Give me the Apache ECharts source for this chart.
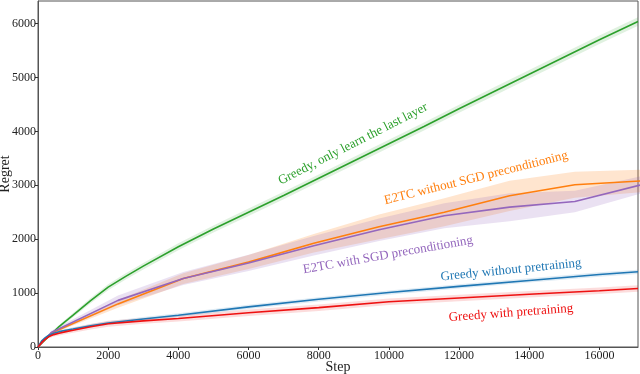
<!DOCTYPE html>
<html>
<head>
<meta charset="utf-8">
<script src="https://cdn.jsdelivr.net/npm/echarts@6/dist/echarts.min.js"></script>
<style>
  html, body { margin: 0; padding: 0; background: #fff; }
  #chart { width: 640px; height: 374px; }
</style>
</head>
<body>
<div id="chart"></div>
<script>
// 曲线数据
let greenSteps = [0, 150, 300, 600, 1000, 1500, 2000, 2500, 3000, 4000, 5000, 6000, 7000, 8000, 9000, 10000, 11000, 12000, 13000, 14000, 15000, 16000, 17100]
let greenMean = [0, 100, 190, 380, 590, 860, 1110, 1310, 1500, 1860, 2190, 2500, 2810, 3130, 3450, 3770, 4090, 4420, 4740, 5060, 5380, 5700, 6040]
let greenStd = [0, 10, 20, 30, 40, 50, 55, 58, 60, 65, 65, 70, 70, 70, 75, 75, 75, 75, 80, 80, 80, 80, 80]

let e2tcSteps = [0, 380, 2280, 4140, 6000, 7860, 9720, 11580, 13440, 15300, 17160]
let orangeMean = [0, 260, 800, 1270, 1575, 1925, 2230, 2500, 2805, 3010, 3080]
let orangeStd = [0, 20, 70, 100, 130, 170, 230, 260, 280, 240, 210]
let purpleMean = [0, 270, 865, 1270, 1560, 1880, 2175, 2435, 2595, 2700, 3005]
let purpleStd = [0, 30, 90, 120, 150, 180, 210, 230, 260, 200, 160]

let greedySteps = [0, 100, 200, 300, 450, 600, 800, 1000, 1500, 2000, 3000, 4000, 6000, 8000, 10000, 12000, 14000, 16000, 17100]
let blueMean = [0, 110, 170, 215, 255, 285, 312, 335, 395, 445, 520, 590, 745, 885, 1010, 1125, 1235, 1345, 1395]
let blueStd = [0, 10, 15, 20, 22, 25, 28, 30, 32, 35, 35, 35, 40, 40, 40, 40, 40, 40, 40]
let redMean = [0, 80, 140, 190, 230, 255, 285, 310, 375, 430, 485, 530, 635, 730, 840, 910, 980, 1045, 1085]
let redStd = [0, 15, 22, 30, 35, 40, 42, 45, 50, 55, 55, 55, 60, 60, 60, 60, 60, 60, 60]

let xTicks = [0, 2000, 4000, 6000, 8000, 10000, 12000, 14000, 16000]
let yTicks = [0, 1000, 2000, 3000, 4000, 5000, 6000]

let font = 'Liberation Serif'

// 阴影带：用 custom 系列画一个多边形（mean ± std）
function bandSeries(steps, mean, std, bandColor) {
  let data = steps.map((s, i) => [s, mean[i] - std[i], mean[i] + std[i]])
  return {
    type: 'custom',
    silent: true,
    z: 1,
    data: data,
    encode: { x: 0, y: [1, 2] },
    renderItem: function(params, api) {
      if (params.dataIndex !== 0) return null
      let top = data.map(d => api.coord([d[0], d[2]]))
      let bottom = data.map(d => api.coord([d[0], d[1]])).reverse()
      return {
        type: 'polygon',
        shape: { points: top.concat(bottom) },
        style: { fill: bandColor }
      }
    }
  }
}

// 均值线
function lineSeries(steps, mean, color) {
  return {
    type: 'line',
    data: steps.map((s, i) => [s, mean[i]]),
    symbol: 'none',
    lineStyle: { color: color, width: 1.6 },
    z: 3
  }
}

let series = [
  bandSeries(greenSteps, greenMean, greenStd, 'rgba(44,160,44,0.15)'),
  bandSeries(e2tcSteps, orangeMean, orangeStd, 'rgba(255,127,14,0.2)'),
  bandSeries(e2tcSteps, purpleMean, purpleStd, 'rgba(148,103,189,0.2)'),
  bandSeries(greedySteps, blueMean, blueStd, 'rgba(31,119,180,0.15)'),
  bandSeries(greedySteps, redMean, redStd, 'rgba(238,17,17,0.15)'),
  lineSeries(greenSteps, greenMean, '#2ca02c'),
  lineSeries(e2tcSteps, orangeMean, '#ff7f0e'),
  lineSeries(e2tcSteps, purpleMean, '#9467bd'),
  lineSeries(greedySteps, blueMean, '#1f77b4'),
  lineSeries(greedySteps, redMean, '#ee1111')
]

// 曲线旁的文字标注
function label(text, x, y, deg, color) {
  return {
    type: 'text',
    x: x,
    y: y,
    rotation: deg * Math.PI / 180,
    z: 10,
    style: {
      text: text,
      fill: color,
      font: '13px "' + font + '"',
      textAlign: 'center',
      textVerticalAlign: 'middle'
    }
  }
}

let mychart = echarts.init(document.querySelector('#chart'))
let option = {
  animation: false,
  backgroundColor: '#fff',
  grid: {
    left: 38,
    right: 2,
    top: 1,
    bottom: 27,
    outerBoundsMode: 'none',
    containLabel: false,
    show: true,
    borderColor: '#555',
    borderWidth: 1
  },
  xAxis: {
    type: 'value',
    min: 0,
    max: 17100,
    interval: 2000,
    name: 'Step',
    nameLocation: 'middle',
    nameGap: 13,
    nameMoveOverlap: false,
    nameTextStyle: { fontFamily: font, fontSize: 14, color: '#222' },
    axisLine: { show: true, lineStyle: { color: '#555' } },
    axisTick: { show: true, length: 3, lineStyle: { color: '#333' } },
    splitLine: { show: false },
    axisLabel: {
      fontFamily: font,
      fontSize: 12,
      color: '#222',
      margin: 3,
      showMaxLabel: false,
      formatter: v => (xTicks.indexOf(v) >= 0 ? String(v) : '')
    }
  },
  yAxis: {
    type: 'value',
    min: 0,
    max: 6420,
    interval: 1000,
    name: 'Regret',
    nameLocation: 'middle',
    nameGap: 26,
    nameMoveOverlap: false,
    nameTextStyle: { fontFamily: font, fontSize: 14, color: '#222' },
    axisLine: { show: true, lineStyle: { color: '#555' } },
    axisTick: { show: true, length: 3, lineStyle: { color: '#333' } },
    splitLine: { show: false },
    axisLabel: {
      fontFamily: font,
      fontSize: 12,
      color: '#222',
      margin: 2,
      showMaxLabel: false,
      formatter: v => (yTicks.indexOf(v) >= 0 ? String(v) : '')
    }
  },
  graphic: [
    label('Greedy, only learn the last layer', 353, 144, 27, '#2ca02c'),
    label('E2TC without SGD preconditioning', 476, 178, 14, '#ff7f0e'),
    label('E2TC with SGD preconditioning', 388, 255, 10, '#9467bd'),
    label('Greedy without pretraining', 511, 270, 5.7, '#1f77b4'),
    label('Greedy with pretraining', 511, 313, 4.3, '#ee1111')
  ],
  series: series
}
mychart.setOption(option)
</script>
</body>
</html>
